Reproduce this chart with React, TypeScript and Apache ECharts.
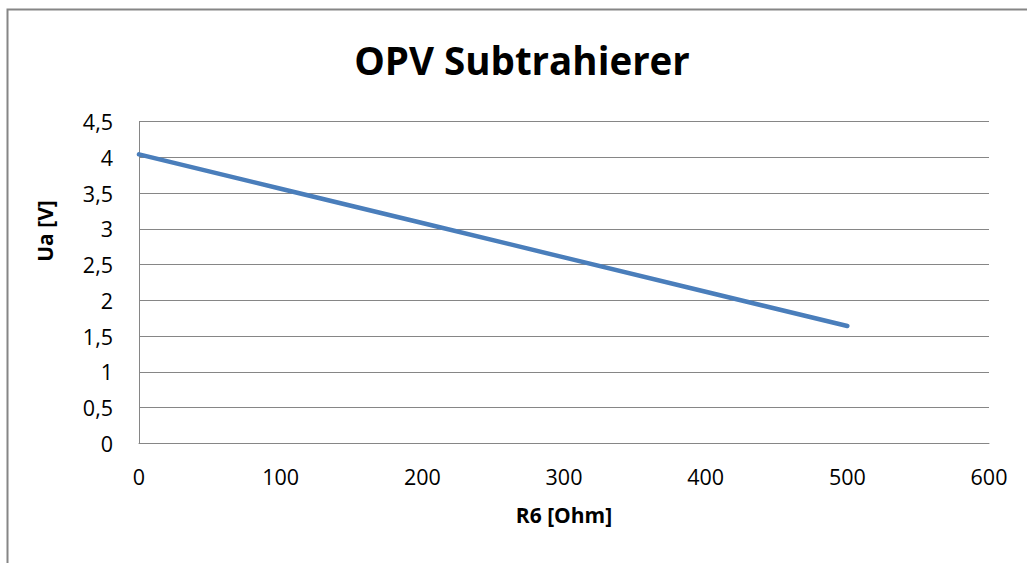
import React, { useEffect, useRef } from "react";
import * as echarts from "echarts";

const titleText = "OPV Subtrahierer";
const xName = "R6 [Ohm]";
const yName = "Ua [V]";
const r6Values = [0, 100, 200, 300, 400, 500];
const uaValues = [4.04, 3.56, 3.08, 2.6, 2.12, 1.64];
const xTicks = { min: 0, max: 600, interval: 100 };
const yTicks = { min: 0, max: 4.5, interval: 0.5 };

const FONT = "'Open Sans', sans-serif";
const GRAY = "#868686";

export default function App() {
  const ref = useRef<HTMLDivElement>(null);
  useEffect(() => {
    if (!ref.current) return;
    const chart = echarts.init(ref.current, undefined, { renderer: "svg" });
    chart.setOption({
      animation: false,
      backgroundColor: "#ffffff",
      grid: { left: 139, top: 121.5, right: 38, bottom: 119.7, containLabel: false },
      xAxis: {
        type: "value",
        min: xTicks.min,
        max: xTicks.max,
        interval: xTicks.interval,
        name: xName,
        nameLocation: "middle",
        nameGap: 61,
        nameTextStyle: { fontFamily: FONT, fontWeight: "bold", fontSize: 21, color: "#000" },
        axisLine: { show: true, lineStyle: { color: GRAY, width: 1 } },
        axisTick: { show: false },
        axisLabel: { fontFamily: FONT, fontSize: 21.5, color: "#000", margin: 22 },
        splitLine: { show: false },
      },
      yAxis: {
        type: "value",
        min: yTicks.min,
        max: yTicks.max,
        interval: yTicks.interval,
        axisLine: { show: true, lineStyle: { color: GRAY, width: 1 } },
        axisTick: { show: false },
        axisLabel: {
          fontFamily: FONT,
          fontSize: 21.5,
          color: "#000",
          margin: 26,
          formatter: (v: number) => String(v).replace(".", ","),
        },
        splitLine: { show: true, lineStyle: { color: GRAY, width: 1 } },
      },
      series: [
        {
          type: "line",
          data: r6Values.map((x, i) => [x, uaValues[i]]),
          showSymbol: false,
          symbol: "none",
          lineStyle: { color: "#4a7ebb", width: 4.5, cap: "round", join: "round" },
          itemStyle: { color: "#4a7ebb" },
        },
      ],
      graphic: [
        {
          type: "rect",
          shape: { x: 7.5, y: 9.5, width: 1100, height: 700 },
          style: { fill: "none", stroke: GRAY, lineWidth: 2 },
          silent: true,
        },
        {
          type: "text",
          x: 522,
          y: 60,
          style: {
            text: titleText,
            fontFamily: FONT,
            fontWeight: "bold",
            fontSize: 38.5,
            fill: "#000",
            textAlign: "center",
            textVerticalAlign: "middle",
          },
        },
        {
          type: "text",
          x: 45,
          y: 231,
          rotation: Math.PI / 2,
          style: {
            text: yName,
            fontFamily: FONT,
            fontWeight: "bold",
            fontSize: 21,
            fill: "#000",
            textAlign: "center",
            textVerticalAlign: "middle",
          },
        },
      ],
    });
    return () => chart.dispose();
  }, []);
  return (
    <div
      ref={ref}
      style={{ position: "absolute", left: 0, top: 0, width: 1027, height: 563 }}
    />
  );
}
